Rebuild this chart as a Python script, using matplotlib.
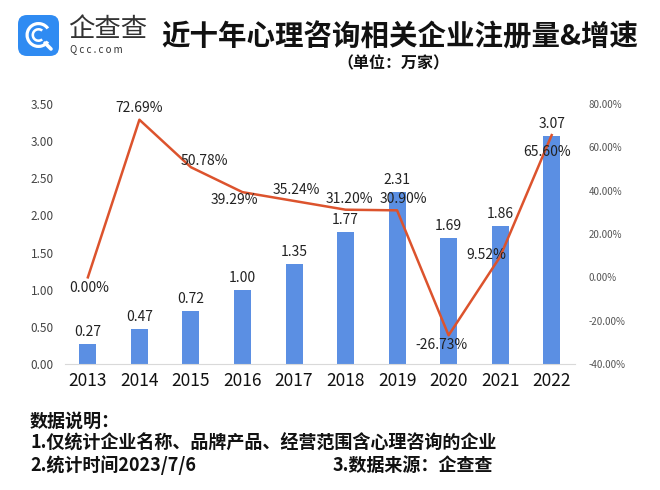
import matplotlib.pyplot as plt
from matplotlib.patches import FancyBboxPatch, Wedge
import numpy as np

plt.rcParams['font.family'] = ['Noto Sans CJK SC', 'DejaVu Sans']

years = ['2013', '2014', '2015', '2016', '2017', '2018', '2019', '2020', '2021', '2022']
counts = [0.27, 0.47, 0.72, 1.00, 1.35, 1.77, 2.31, 1.69, 1.86, 3.07]
growth = [0.00, 72.69, 50.78, 39.29, 35.24, 31.20, 30.90, -26.73, 9.52, 65.60]
# label offsets in pixels (dx, dy)
growth_offsets = [(1, -11), (0, 12), (13, 6), (-8, -8), (2, 11), (4, 11), (6, 11), (-7, -10), (-14, 2), (-5, -17)]

bar_color = '#5B8FE3'
line_color = '#DC532D'

fig = plt.figure(figsize=(6.6, 4.9), dpi=100)
ax = fig.add_axes([0.098, 0.257, 0.773, 0.531])
ax2 = ax.twinx()

x = np.arange(len(years))
ax.bar(x, counts, width=0.33, color=bar_color, zorder=2)
for xi, v in zip(x, counts):
    ax.annotate(f'{v:.2f}', (xi, v), xytext=(0, 5), textcoords='offset pixels',
                ha='center', va='bottom', fontsize=10, color='#222222')

ax.set_ylim(0, 3.5)
ax.set_yticks(np.arange(0, 3.51, 0.5))
ax.set_yticklabels([f'{t:.2f}' for t in np.arange(0, 3.51, 0.5)], fontsize=8.5, color='#444444')
ax.set_xlim(-0.45, len(years) - 0.55)
ax.set_xticks(x)
ax.set_xticklabels(years, fontsize=12.5, color='#111111')
ax.tick_params(axis='both', length=0)
ax.tick_params(axis='y', pad=8)
ax.tick_params(axis='x', pad=6)
for s in ['top', 'right', 'left']:
    ax.spines[s].set_visible(False)
ax.spines['bottom'].set_color('#d9d9d9')

ax2.plot(x, growth, color=line_color, linewidth=1.8, zorder=3)
ax2.set_ylim(-40, 80)
ticks2 = np.arange(-40, 81, 20)
ax2.set_yticks(ticks2)
ax2.set_yticklabels([f'{t:.2f}%' for t in ticks2], fontsize=7, color='#555555')
ax2.tick_params(axis='y', length=0, pad=10)
for s in ['top', 'right', 'left', 'bottom']:
    ax2.spines[s].set_visible(False)
for xi, g, off in zip(x, growth, growth_offsets):
    ax2.annotate(f'{g:.2f}%', (xi, g), xytext=off, textcoords='offset pixels',
                 ha='center', va='center', fontsize=10, color='#222222')

# logo icon, drawn in a small pixel-scaled axes
lax = fig.add_axes([18 / 660, 1 - 56 / 490, 41 / 660, 41 / 490])
lax.set_xlim(0, 41)
lax.set_ylim(0, 41)
lax.axis('off')
lax.add_patch(FancyBboxPatch((0, 0), 41, 41, boxstyle='round,pad=0,rounding_size=9',
                             facecolor='#2F8BF2', edgecolor='none'))
lax.add_patch(Wedge((20.5, 21), 13, 35, 325, width=3.2, facecolor='white'))
lax.add_patch(Wedge((20.5, 21), 7, 50, 310, width=2.6, facecolor='white'))
lax.plot([27, 33], [13, 7], color='white', linewidth=2.6, solid_capstyle='round')

fig.text(68 / 660, 1 - 30 / 490, '企查查', ha='left', va='center', fontsize=19, color='#333333')
fig.text(70 / 660, 1 - 49 / 490, 'Q c c . c o m', ha='left', va='center', fontsize=7, color='#333333')

fig.text(400 / 660, 1 - 37 / 490, '近十年心理咨询相关企业注册量&增速', ha='center', va='center',
         fontsize=20.5, fontweight='bold', color='#111111')
fig.text(393 / 660, 1 - 63 / 490, '（单位：万家）', ha='center', va='center',
         fontsize=11.5, fontweight='bold', color='#111111')

note_kw = dict(ha='left', va='center', fontsize=13, fontweight='bold', color='#111111')
fig.text(30 / 660, 1 - 421 / 490, '数据说明：', **note_kw)
fig.text(30 / 660, 1 - 443 / 490, '1.仅统计企业名称、品牌产品、经营范围含心理咨询的企业', **note_kw)
fig.text(30 / 660, 1 - 465 / 490, '2.统计时间2023/7/6', **note_kw)
fig.text(333 / 660, 1 - 465 / 490, '3.数据来源：企查查', **note_kw)

fig.savefig('out.png', dpi=100, facecolor='white')
